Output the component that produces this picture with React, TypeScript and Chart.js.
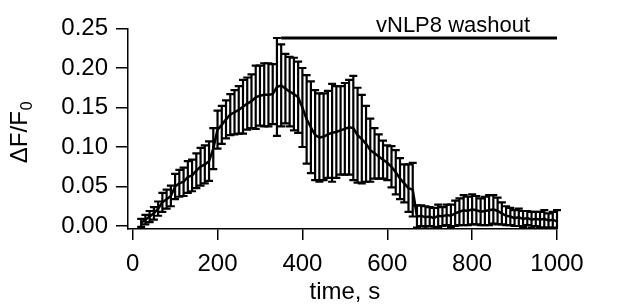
import { useEffect, useRef } from 'react';
import { Chart, registerables } from 'chart.js';

Chart.register(...registerables);

// ---- data ----
const times = [
  20, 30, 40, 50, 60, 70, 80, 90, 100, 110, 120, 130, 140, 150, 160, 170, 180, 190,
  200, 210, 220, 230, 240, 250, 260, 270, 280, 290, 300, 310, 320, 330, 340, 350,
  360, 370, 380, 390, 400, 410, 420, 430, 440, 450, 460, 470, 480, 490, 500, 510,
  520, 530, 540, 550, 560, 570, 580, 590, 600, 610, 620, 630, 640, 650, 660, 670,
  680, 690, 700, 710, 720, 730, 740, 750, 760, 770, 780, 790, 800, 810, 820, 830,
  840, 850, 860, 870, 880, 890, 900, 910, 920, 930, 940, 950, 960, 970, 980, 990, 1000,
];

const means = [
  0.004, 0.008, 0.012, 0.016, 0.022, 0.03, 0.034, 0.038, 0.05, 0.054, 0.056, 0.062, 0.064, 0.07, 0.075, 0.078, 0.082, 0.098,
  0.122, 0.128, 0.135, 0.141, 0.144, 0.147, 0.151, 0.155, 0.158, 0.163, 0.165, 0.166, 0.166, 0.167, 0.176, 0.178,
  0.174, 0.17, 0.167, 0.163, 0.15, 0.135, 0.125, 0.115, 0.112, 0.113, 0.116, 0.118, 0.119, 0.121, 0.123, 0.125,
  0.124, 0.115, 0.11, 0.104, 0.096, 0.092, 0.088, 0.084, 0.08, 0.075, 0.068, 0.06, 0.054, 0.048, 0.046, 0.012,
  0.013, 0.011, 0.012, 0.01, 0.013, 0.012, 0.014, 0.013, 0.016, 0.018, 0.02, 0.019, 0.021, 0.02, 0.018, 0.019,
  0.02, 0.021, 0.019, 0.016, 0.013, 0.012, 0.01, 0.011, 0.009, 0.01, 0.008, 0.009, 0.008, 0.009, 0.007, 0.008, 0.006,
];

const errors = [
  0.005, 0.006, 0.007, 0.008, 0.009, 0.012, 0.012, 0.013, 0.016, 0.017, 0.018, 0.02, 0.02, 0.022, 0.024, 0.024, 0.025, 0.026,
  0.024, 0.024, 0.024, 0.026, 0.028, 0.03, 0.034, 0.033, 0.034, 0.04, 0.038, 0.04, 0.04, 0.038, 0.062, 0.052,
  0.044, 0.044, 0.046, 0.045, 0.05, 0.056, 0.058, 0.057, 0.056, 0.055, 0.055, 0.062, 0.058, 0.056, 0.058, 0.06,
  0.066, 0.06, 0.056, 0.048, 0.04, 0.032, 0.028, 0.024, 0.022, 0.026, 0.028, 0.026, 0.024, 0.03, 0.034, 0.014,
  0.013, 0.014, 0.012, 0.013, 0.014, 0.012, 0.013, 0.014, 0.016, 0.017, 0.019, 0.018, 0.019, 0.018, 0.017, 0.018,
  0.019, 0.018, 0.017, 0.014, 0.012, 0.011, 0.01, 0.011, 0.01, 0.009, 0.01, 0.009, 0.01, 0.011, 0.009, 0.01, 0.014,
];

const xTicks = [0, 200, 400, 600, 800, 1000];
const yTicks = [0, 0.05, 0.1, 0.15, 0.2, 0.25];

const washoutStart = 350;
const washoutEnd = 1000;
const washoutLevel = 0.238;
const washoutLabel = 'vNLP8 washout';
const washoutLabelX = 755;

const xTitle = 'time, s';
const yTitleMain = 'ΔF/F';
const yTitleSub = '0';

const FONT = '"Liberation Sans", Arial, Helvetica, sans-serif';
const FS = 24;

const errorBarPlugin = {
  id: 'errorBars',
  beforeDatasetsDraw(chart: any) {
    const { ctx, chartArea, scales } = chart;
    const x = scales.x;
    const y = scales.y;
    ctx.save();
    ctx.beginPath();
    ctx.rect(chartArea.left, chartArea.top - 20, chartArea.right - chartArea.left + 5, chartArea.bottom - chartArea.top + 20);
    ctx.clip();
    ctx.strokeStyle = '#000';
    ctx.lineWidth = 2.2;
    const cap = 4;
    times.forEach((t, i) => {
      const px = x.getPixelForValue(t);
      const top = y.getPixelForValue(means[i] + errors[i]);
      const bot = y.getPixelForValue(means[i] - errors[i]);
      ctx.beginPath();
      ctx.moveTo(px, top);
      ctx.lineTo(px, bot);
      ctx.moveTo(px - cap, top);
      ctx.lineTo(px + cap, top);
      ctx.moveTo(px - cap, bot);
      ctx.lineTo(px + cap, bot);
      ctx.stroke();
    });
    ctx.restore();
  },
};

const annotationPlugin = {
  id: 'annotations',
  afterDraw(chart: any) {
    const { ctx, chartArea, scales } = chart;
    const x = scales.x;
    const y = scales.y;
    ctx.save();
    // washout bar
    const yb = y.getPixelForValue(washoutLevel);
    ctx.strokeStyle = '#000';
    ctx.lineWidth = 3;
    ctx.beginPath();
    ctx.moveTo(x.getPixelForValue(washoutStart), yb);
    ctx.lineTo(x.getPixelForValue(washoutEnd), yb);
    ctx.stroke();
    ctx.fillStyle = '#000';
    ctx.font = `22px ${FONT}`;
    ctx.textAlign = 'center';
    ctx.textBaseline = 'alphabetic';
    ctx.fillText(washoutLabel, x.getPixelForValue(washoutLabelX), yb - 6);

    // x title
    ctx.font = `${FS}px ${FONT}`;
    const cx = (x.getPixelForValue(xTicks[0]) + x.getPixelForValue(xTicks[xTicks.length - 1])) / 2;
    ctx.fillText(xTitle, cx, chartArea.bottom + 70);

    // y title (rotated, with subscript)
    const cy = (chartArea.top + chartArea.bottom) / 2 + 4;
    ctx.translate(27, cy);
    ctx.rotate(-Math.PI / 2);
    const subFont = `16px ${FONT}`;
    ctx.font = `${FS}px ${FONT}`;
    const wMain = ctx.measureText(yTitleMain).width;
    ctx.font = subFont;
    const wSub = ctx.measureText(yTitleSub).width;
    const total = wMain + wSub;
    ctx.textAlign = 'left';
    ctx.font = `${FS}px ${FONT}`;
    ctx.fillText(yTitleMain, -total / 2, 0);
    ctx.font = subFont;
    ctx.fillText(yTitleSub, -total / 2 + wMain + 1, 5);
    ctx.restore();
  },
};

export default function App() {
  const ref = useRef<HTMLCanvasElement | null>(null);

  useEffect(() => {
    if (!ref.current) return;
    const chart = new Chart(ref.current, {
      type: 'line',
      data: {
        datasets: [
          {
            data: times.map((t, i) => ({ x: t, y: means[i] })),
            borderColor: '#000',
            borderWidth: 2.5,
            pointRadius: 0,
            tension: 0,
            fill: false,
          },
        ],
      },
      options: {
        responsive: false,
        animation: false,
        devicePixelRatio: 1,
        layout: { padding: { left: 0, top: 28.5, right: 60, bottom: 0 } },
        plugins: { legend: { display: false }, tooltip: { enabled: false }, title: { display: false } },
        scales: {
          x: {
            type: 'linear',
            min: -11,
            max: 1000,
            afterBuildTicks: (s: any) => {
              s.ticks = xTicks.map((v) => ({ value: v }));
            },
            afterFit: (s: any) => {
              s.height = 79;
            },
            grid: {
              drawOnChartArea: false,
              drawTicks: true,
              tickLength: 11,
              color: '#000',
              lineWidth: 1.5,
            },
            border: { display: true, color: '#000', width: 1.5 },
            ticks: {
              color: '#000',
              font: { family: FONT, size: FS },
              padding: 10,
              maxRotation: 0,
              autoSkip: false,
              callback: (v: any) => String(v),
            },
          },
          y: {
            type: 'linear',
            min: -0.0038,
            max: 0.25,
            afterBuildTicks: (s: any) => {
              s.ticks = yTicks.map((v) => ({ value: v }));
            },
            afterFit: (s: any) => {
              s.width = 128;
            },
            grid: {
              drawOnChartArea: false,
              drawTicks: true,
              tickLength: 12,
              color: '#000',
              lineWidth: 1.5,
            },
            border: { display: true, color: '#000', width: 1.5 },
            ticks: {
              color: '#000',
              font: { family: FONT, size: FS },
              padding: 8,
              autoSkip: false,
              callback: (v: any) => Number(v).toFixed(2),
            },
          },
        },
      },
      plugins: [errorBarPlugin, annotationPlugin],
    });
    return () => chart.destroy();
  }, []);

  return (
    <div style={{ position: 'absolute', left: 0, top: 0, width: 617, height: 308, background: '#fff' }}>
      <canvas ref={ref} width={617} height={308} />
    </div>
  );
}
